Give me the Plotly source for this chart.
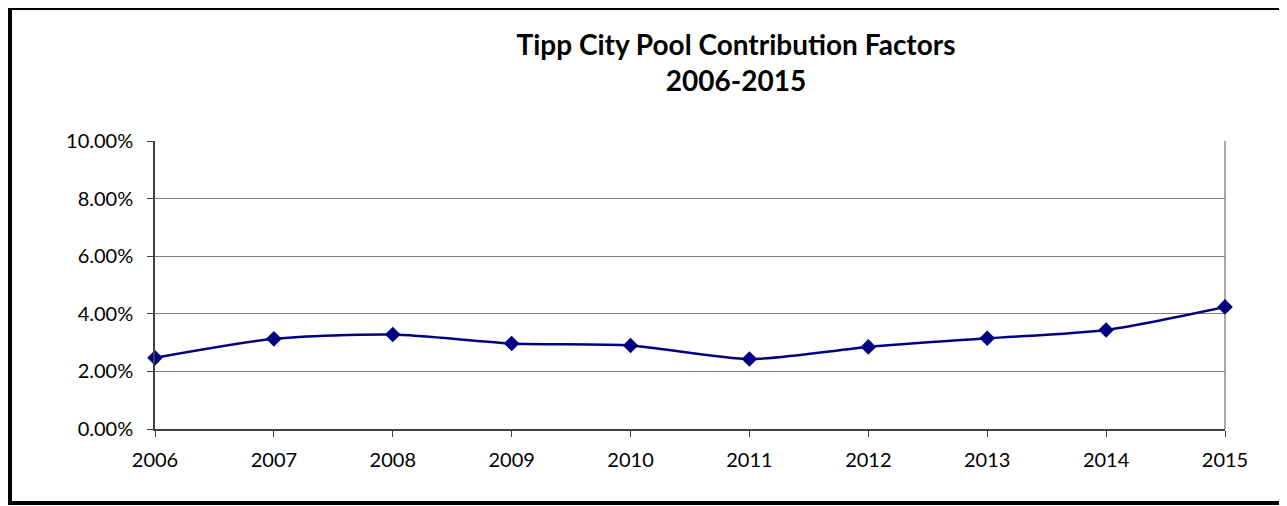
import plotly.graph_objects as go

# Tipp City pool contribution factors by year (fractions)
years = [2006, 2007, 2008, 2009, 2010, 2011, 2012, 2013, 2014, 2015]
factors = [0.0247, 0.0313, 0.0328, 0.0297, 0.0290, 0.0243, 0.0285, 0.0315, 0.0344, 0.0424]
y_ticks = [0, 0.02, 0.04, 0.06, 0.08, 0.10]

font_family = "Lato, 'Liberation Sans', sans-serif"

fig = go.Figure()
fig.add_trace(go.Scatter(
    x=years, y=factors,
    mode='lines+markers',
    line=dict(color='#000080', width=2.5, shape='spline', smoothing=0.7),
    marker=dict(symbol='diamond', size=12, color='#000080'),
    cliponaxis=False,
    showlegend=False,
))

fig.update_layout(
    width=1279, height=498,
    margin=dict(l=147, r=62, t=133, b=77),
    paper_bgcolor='white',
    plot_bgcolor='white',
    font=dict(family=font_family, size=20, color='black'),
    title=dict(
        text='<b>Tipp City Pool Contribution Factors<br>2006-2015</b>',
        x=728 / 1279, xanchor='center', xref='container',
        y=1 - 47 / 498, yanchor='top', yref='container',
        font=dict(size=28, family=font_family, color='black'),
    ),
    xaxis=dict(
        range=[2006, 2015],
        tickmode='array', tickvals=years, ticktext=[str(y) for y in years],
        showgrid=False, zeroline=False,
        showline=True, linecolor='#404040', linewidth=1.5,
        ticks='outside', ticklen=6, tickcolor='#404040',
        ticklabelstandoff=6,
    ),
    yaxis=dict(
        range=[0, 0.10],
        tickvals=y_ticks, tickformat='.2%',
        showgrid=True, gridcolor='#7f7f7f', gridwidth=1,
        zeroline=False,
        showline=True, linecolor='#404040', linewidth=1.5,
        ticks='outside', ticklen=6, tickcolor='#404040',
        ticklabelstandoff=10,
    ),
    shapes=[
        # right edge of plot area
        dict(type='line', xref='paper', yref='paper', x0=1, x1=1, y0=0, y1=1,
             line=dict(color='#8c8c8c', width=1.5), layer='below'),
        # outer chart border
        dict(type='rect', xref='paper', yref='paper',
             x0=-0.1355, x1=1.057, y0=-0.257, y1=1.462,
             line=dict(color='black', width=4)),
    ],
)

fig.write_html("out.html")
